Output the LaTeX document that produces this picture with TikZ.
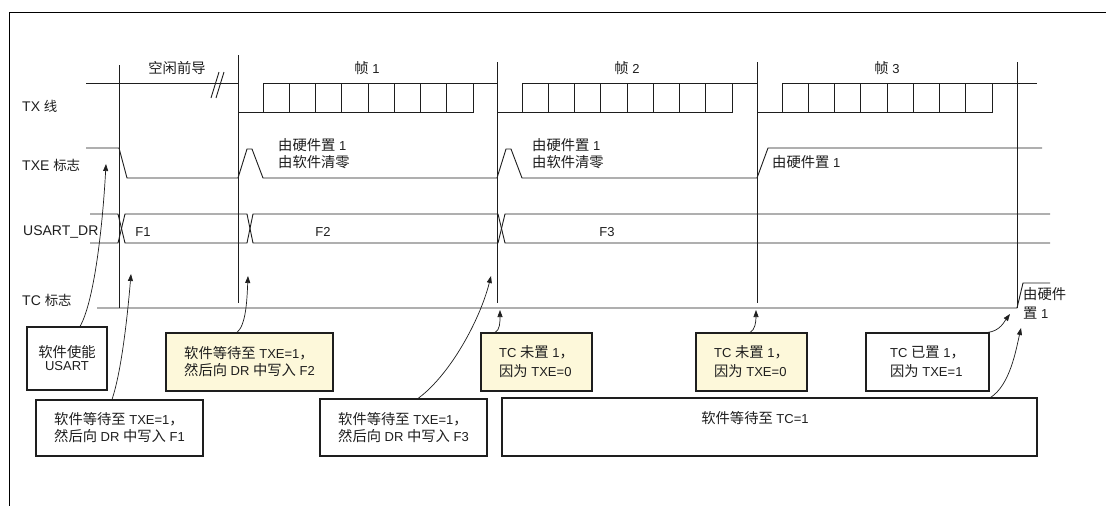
\documentclass[tikz,border=0pt]{standalone}
\usepackage{fontspec}
\setmainfont{Liberation Sans}
\newfontfamily\cjk[Scale=1.1]{Noto Sans CJK SC}
\usetikzlibrary{arrows.meta}
\definecolor{yel}{RGB}{253,248,218}
\definecolor{ink}{RGB}{30,30,30}
\newcommand\zh[1]{{\cjk #1}}
\newcommand\zl[1]{{\cjk\fontsize{12.2}{17}\selectfont #1}}
\begin{document}
\begin{tikzpicture}[x=1pt,y=-1pt,
  every node/.style={font=\fontsize{13}{17}\selectfont, text=ink},
  sig/.style={line width=0.9pt, draw=ink},
  lbl/.style={anchor=west, inner sep=0pt},
  side/.style={lbl, font=\fontsize{14}{17}\selectfont},
  box/.style={draw=ink, line width=1.1pt, fill=white, inner sep=0pt, align=left},
  ybox/.style={box, fill=yel},
  arr/.style={draw=ink, line width=0.7pt, -{Triangle[length=7pt,width=5pt]}}]
\useasboundingbox (0,0) rectangle (1106,506);
\fill[white] (0,0) rectangle (1106,506);
% outer frame
\draw[line width=1pt, black] (9,506) -- (9,12) -- (1106,12);
% vertical markers
\draw[sig] (119,65) -- (119,308);
\draw[sig] (238,55) -- (238,303);
\draw[sig] (497,62) -- (497,303);
\draw[sig] (757,62) -- (757,303);
\draw[sig] (1017,62) -- (1017,308);
% TX line
\draw[sig] (86,83) -- (238,83) -- (238,112);
\foreach \s in {238,497,757} {
  \draw[sig] (\s,112) -- (\s+25,112);
  \draw[sig] (\s+25,83) rectangle (\s+235,112);
  \foreach \i in {1,...,7} \draw[sig] (\s+25+\i*26.25,83) -- (\s+25+\i*26.25,112);
}
\draw[sig] (473,83) -- (497,83) -- (497,112);
\draw[sig] (732,83) -- (757,83) -- (757,112);
\draw[sig] (992,83) -- (1037,83);
\draw[sig] (211,98) -- (219,72);
\draw[sig] (216,98) -- (224,72);
% TXE
\draw[sig] (86,148) -- (119,148) -- (127,178) -- (238,178) -- (247,149) -- (252,149) -- (263,178)
  -- (497,178) -- (506,149) -- (511,149) -- (522,178) -- (757,178) -- (768,148) -- (1042,148);
% USART_DR
\draw[sig] (90,214) -- (118,214) -- (125,243) -- (247,243) -- (253,214) -- (498,214) -- (505,243) -- (1050,243);
\draw[sig] (90,243) -- (118,243) -- (125,214) -- (247,214) -- (253,243) -- (498,243) -- (505,214) -- (1050,214);
% TC
\draw[sig] (97,308) -- (1017,308) -- (1023,283) -- (1050,283);
% labels
\node[side] (ltx) at (22,106) {TX \zl{线}};
\node[side] (ltxe) at (22,165) {TXE \zl{标志}};
\node[side] (ldr) at (23,232) {USART\_DR};
\node[side] (ltc) at (22,300) {TC \zl{标志}};
\node (idle) at (177,68) {\zh{空闲前导}};
\node (fr1) at (367,68) {\zh{帧} 1};
\node (fr2) at (627,68) {\zh{帧} 2};
\node (fr3) at (887,68) {\zh{帧} 3};
\node[lbl, align=left] (n1) at (278,153.5) {\zh{由硬件置} 1\\\zh{由软件清零}};
\node[lbl, align=left] (n2) at (532,153.5) {\zh{由硬件置} 1\\\zh{由软件清零}};
\node[lbl] (n3) at (772,162) {\zh{由硬件置} 1};
\node[lbl, align=left] (n4) at (1023,303.5) {\zh{由硬件}\\[2pt]\zh{置} 1};
\node (d1) at (143,232) {F1};
\node (d2) at (323,232) {F2};
\node (d3) at (607,232) {F3};
% boxes
\node[box, align=center, minimum width=80pt, minimum height=63pt] (en) at (67,358.5) {\zh{软件使能}\\[-4pt]USART};
\node[box, minimum width=167pt, minimum height=56pt] (f1) at (119.5,428) {\zh{软件等待至} TXE=1\zh{，}\\\zh{然后向} DR \zh{中写入} F1};
\node[ybox, minimum width=167pt, minimum height=58pt] (f2) at (249.5,362) {\zh{软件等待至} TXE=1\zh{，}\\\zh{然后向} DR \zh{中写入} F2};
\node[box, minimum width=167pt, minimum height=57pt] (f3) at (403.5,427.5) {\zh{软件等待至} TXE=1\zh{，}\\\zh{然后向} DR \zh{中写入} F3};
\node[ybox, minimum width=111pt, minimum height=58pt] (tc1) at (536.5,362) {TC \zh{未置} 1\zh{，}\\[2pt]\zh{因为} TXE=0};
\node[ybox, minimum width=111pt, minimum height=58pt] (tc2) at (751.5,362) {TC \zh{未置} 1\zh{，}\\[2pt]\zh{因为} TXE=0};
\node[box, minimum width=123pt, minimum height=58pt] (tc3) at (927.5,362) {TC \zh{已置} 1\zh{，}\\[2pt]\zh{因为} TXE=1};
\node[box, minimum width=535pt, minimum height=58pt] (wtc) at (769.5,427) {};
\node (wtct) at (755,418) {\zh{软件等待至} TC=1};
% arrow targets
\coordinate (a1) at (106,164);
\coordinate (a2) at (131,274);
\coordinate (a3) at (248,276);
\coordinate (a4) at (491,276);
\coordinate (a5) at (500,310);
\coordinate (a6) at (756,310);
\coordinate (a7) at (1010,314);
\coordinate (a8) at (1021,328);
% arrows
\draw[arr] ([xshift=13pt]en.north) .. controls (95,300) and (103,220) .. (a1);
\draw[arr] ([xshift=-7.5pt]f1.north) .. controls (122,370) and (128,310) .. (a2);
\draw[arr] ([xshift=-12.5pt]f2.north) .. controls (246,325) and (247,300) .. (a3);
\draw[arr] ([xshift=14.5pt]f3.north) .. controls (450,375) and (480,320) .. (a4);
\draw[arr] ([xshift=-41.5pt]tc1.north) .. controls (500,330) and (500,322) .. (a5);
\draw[arr] ([xshift=-1.5pt]tc2.north) .. controls (755,330) and (756,322) .. (a6);
\draw[arr] ([xshift=-2pt]tc3.north east) .. controls (1000,331) and (1004,322) .. (a7);
\draw[arr] ([xshift=-47pt]wtc.north east) .. controls (1010,385) and (1016,350) .. (a8);
\end{tikzpicture}
\end{document}
